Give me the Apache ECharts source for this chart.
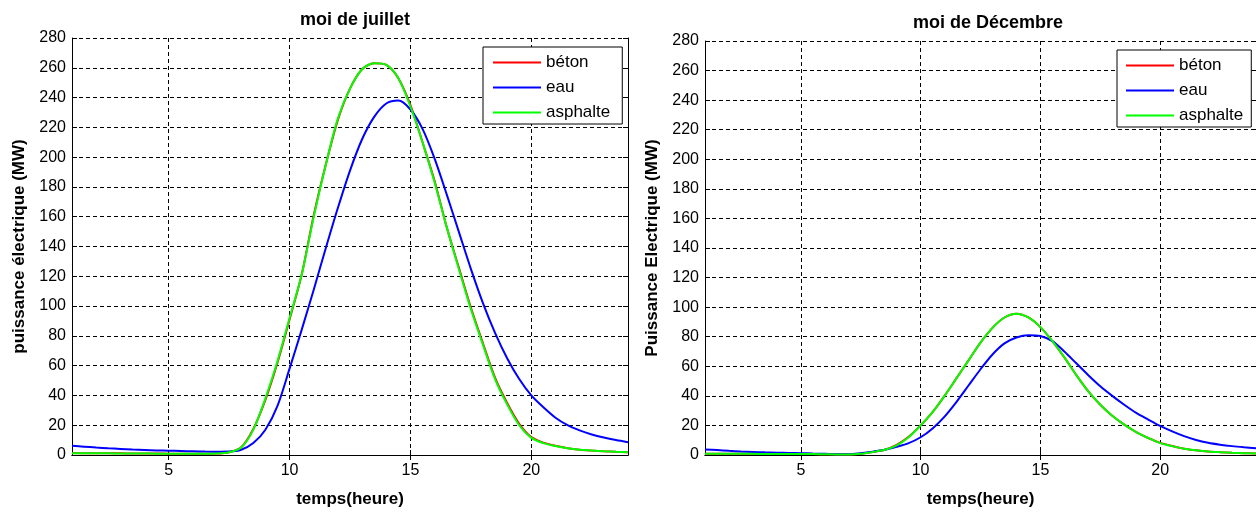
<!DOCTYPE html>
<html>
<head>
<meta charset="utf-8">
<script src="https://cdn.jsdelivr.net/npm/echarts@6/dist/echarts.min.js"></script>
<style>
html,body{margin:0;padding:0;background:#fff;}
#chart{width:1256px;height:513px;}
</style>
</head>
<body>
<div id="chart"></div>
<script>
// ---- data ----
const hours = [1,1.5,2,2.5,3,3.5,4,4.5,5,5.5,6,6.5,7,7.5,8,8.5,9,9.5,10,10.5,11,11.5,12,12.5,13,13.5,14,14.5,15,15.5,16,16.5,17,17.5,18,18.5,19,19.5,20,20.5,21,21.5,22,22.5,23,23.5,24];
const seriesNames = ['béton','eau','asphalte'];
const yTicks = [0,20,40,60,80,100,120,140,160,180,200,220,240,260,280];
const xTickLabels = [5,10,15,20];

// moi de juillet
const julBeton    = [1.3,1.2,1.2,1.1,1.1,1.0,1.0,1.0,0.9,0.9,0.9,0.9,1.0,1.9,5.2,17.5,37,62,91,121,161,195,225,246,259,263,262,253,235,210,184,153,126,99,75,52,35,21,12,8.3,6.2,4.6,3.6,3.0,2.5,2.1,1.8];
const julEau      = [6.2,5.6,5.0,4.5,4.1,3.7,3.4,3.1,2.9,2.7,2.5,2.3,2.2,2.3,3.5,8,17,33,58,84,111,139,166,191,212,227,236,238,232,219,199,175,150,125,102,82,65,51,40,32,25,20,16.5,13.8,11.7,10,8.6];
const julAsphalte = [1.2,1.2,1.1,1.1,1.0,1.0,1.0,0.9,0.9,0.9,0.9,0.9,1.0,1.8,5,17,38,63,92,121,160,195,226,246,259,263,262,253,234,210,183,153,125,98,74,51,34,20,11.5,8,6,4.5,3.5,3.0,2.5,2.1,1.8];

// moi de Décembre
const decBeton    = [0.9,0.9,0.8,0.8,0.8,0.7,0.7,0.7,0.6,0.6,0.5,0.4,0.4,0.8,2.1,3.6,6.8,12.3,20,29,40,52,64,76,86,93,95.5,93,86.5,77,66,54,43,34,26.5,20.5,15.5,11.5,8.2,6.1,4.3,3.2,2.4,1.9,1.5,1.2,1.0];
const decEau      = [3.8,3.3,2.8,2.4,2.1,1.8,1.6,1.4,1.2,1.0,0.8,0.5,0.5,1.2,2.2,3.5,5.5,8,12,18,26,36,47,58,68,75.5,79.5,81,80.5,77,70,62,54,46.5,40,34,28.5,24,19.7,16,12.8,10.2,8.3,7,6,5.2,4.5];
const decAsphalte = [0.9,0.9,0.8,0.8,0.8,0.7,0.7,0.7,0.6,0.6,0.5,0.4,0.4,0.8,2,3.5,6.5,12,20,29,40,52,64,76,86,93,95.5,93,86.5,77,66,54,43,34,26.5,20.5,15.5,11.5,8,6,4.2,3.2,2.4,1.9,1.5,1.2,1.0];

// ---- chart ----
const colors = ['#ff0000','#0000ff','#00ff00'];
const FONT = 'Liberation Sans, Arial, sans-serif';
const pairs = arr => hours.map((h,i)=>[h, arr[i]]);

const grids = [
  {left:72, top:38, width:556, height:423},
  {left:705, top:41, width:556, height:422}
];

const dashed = {show:true, lineStyle:{color:'#000', type:[4,3], width:1}};

function mainX(gi){
  return {type:'value', gridIndex:gi, min:hours[0], max:hours[hours.length-1], position:'bottom',
    name:'temps(heure)', nameLocation:'middle', nameGap:36,
    nameTextStyle:{fontFamily:FONT, fontSize:17, fontWeight:'bold', color:'#000'},
    axisLine:{show:true, lineStyle:{color:'#000', width:1}},
    axisTick:{show:true, inside:true, length:5, customValues:xTickLabels, lineStyle:{color:'#000'}},
    axisLabel:{show:true, customValues:xTickLabels, fontFamily:FONT, fontSize:16, color:'#000', margin:8},
    splitLine:Object.assign({customValues:xTickLabels}, dashed)};
}
function topX(gi){
  return {type:'value', gridIndex:gi, min:hours[0], max:hours[hours.length-1], position:'top',
    axisLine:{show:true, lineStyle:{color:'#000', width:1}},
    axisTick:{show:true, inside:true, length:5, customValues:xTickLabels, lineStyle:{color:'#000'}},
    axisLabel:{show:false}, splitLine:{show:false}};
}
function mainY(gi, name, gap){
  return {type:'value', gridIndex:gi, min:yTicks[0], max:yTicks[yTicks.length-1], interval:yTicks[1]-yTicks[0], position:'left',
    name:name, nameLocation:'middle', nameGap:gap, nameRotate:90,
    nameTextStyle:{fontFamily:FONT, fontSize:17, fontWeight:'bold', color:'#000'},
    axisLine:{show:true, lineStyle:{color:'#000', width:1}},
    axisTick:{show:true, inside:true, length:5, lineStyle:{color:'#000'}},
    axisLabel:{fontFamily:FONT, fontSize:16, color:'#000', margin:6},
    splitLine:dashed};
}
function rightY(gi){
  return {type:'value', gridIndex:gi, min:yTicks[0], max:yTicks[yTicks.length-1], interval:yTicks[1]-yTicks[0], position:'right',
    axisLine:{show:true, lineStyle:{color:'#000', width:1}},
    axisTick:{show:true, inside:true, length:5, lineStyle:{color:'#000'}},
    axisLabel:{show:false}, splitLine:{show:false}};
}

function mkSeries(name, arr, color, xi, yi){
  return {type:'line', name:name, data:pairs(arr), xAxisIndex:xi, yAxisIndex:yi,
    showSymbol:false, symbol:'none', smooth:0.3, lineStyle:{color:color, width:2}, itemStyle:{color:color}, z:3};
}

function mkLegend(left, top, padding){
  return {data:seriesNames, orient:'vertical', left:left, top:top, icon:'rect', itemWidth:48, itemHeight:2,
    itemGap:8, padding:padding, borderColor:'#000', borderWidth:1, backgroundColor:'#fff', borderRadius:0,
    textStyle:{fontFamily:FONT, fontSize:17, color:'#000', lineHeight:16}, selectedMode:false};
}

const option = {
  animation:false,
  backgroundColor:'#fff',
  title:[
    {text:'moi de juillet', left:350, top:6, textAlign:'center', textStyle:{fontFamily:FONT, fontSize:18, fontWeight:'bold', color:'#000'}},
    {text:'moi de Décembre', left:983, top:9, textAlign:'center', textStyle:{fontFamily:FONT, fontSize:18, fontWeight:'bold', color:'#000'}}
  ],
  legend:[mkLegend(483, 47, [7,12,3,10]), mkLegend(1117, 50, [7,8,3,9])],
  grid:grids,
  xAxis:[mainX(0), topX(0), mainX(1), topX(1)],
  yAxis:[mainY(0,'puissance électrique (MW)',44), rightY(0), mainY(1,'Puissance Electrique (MW)',44), rightY(1)],
  series:[
    mkSeries(seriesNames[0], julBeton, colors[0], 0, 0),
    mkSeries(seriesNames[1], julEau, colors[1], 0, 0),
    mkSeries(seriesNames[2], julAsphalte, colors[2], 0, 0),
    mkSeries(seriesNames[0], decBeton, colors[0], 2, 2),
    mkSeries(seriesNames[1], decEau, colors[1], 2, 2),
    mkSeries(seriesNames[2], decAsphalte, colors[2], 2, 2)
  ]
};

const chart = echarts.init(document.getElementById('chart'), null, {renderer:'canvas'});
chart.setOption(option);
</script>
</body>
</html>
